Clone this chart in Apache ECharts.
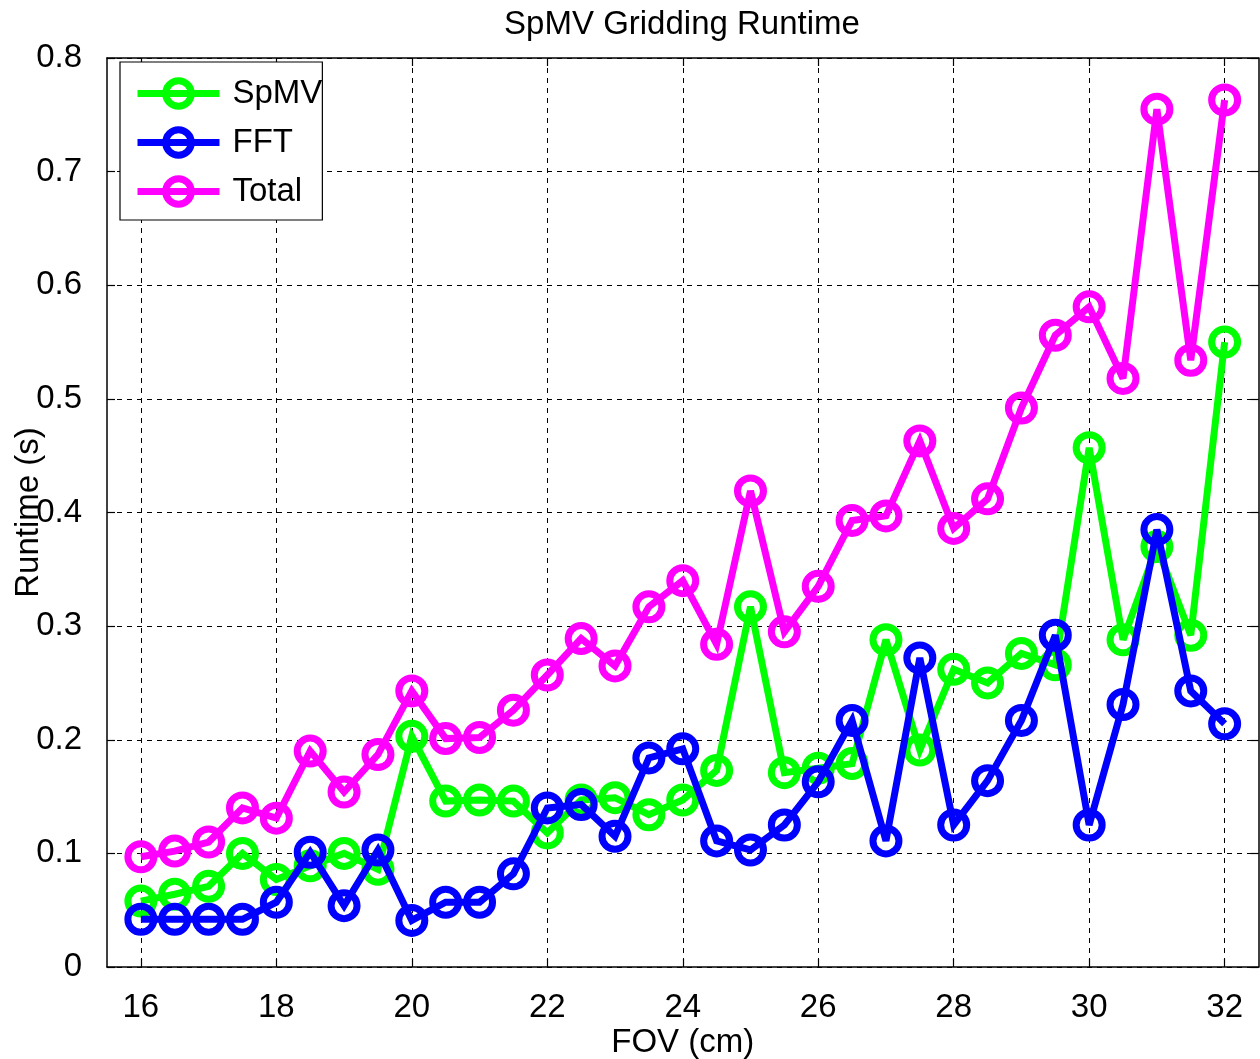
<!DOCTYPE html>
<html>
<head>
<meta charset="utf-8">
<title>SpMV Gridding Runtime</title>
<script src="https://cdn.jsdelivr.net/npm/echarts@6/dist/echarts.min.js"></script>
<style>
  html, body { margin: 0; padding: 0; background: #fff; }
  #chart { width: 1260px; height: 1059px; }
</style>
</head>
<body>
<div id="chart"></div>
<script>
// Field of view (cm) for each measurement
const fov = [16, 16.5, 17, 17.5, 18, 18.5, 19, 19.5, 20, 20.5, 21, 21.5, 22, 22.5, 23, 23.5,
             24, 24.5, 25, 25.5, 26, 26.5, 27, 27.5, 28, 28.5, 29, 29.5, 30, 30.5, 31, 31.5, 32];

// Runtime in seconds
const spmv = [0.058, 0.064, 0.071, 0.100, 0.077, 0.089, 0.100, 0.086, 0.203, 0.146, 0.147, 0.146,
              0.118, 0.147, 0.149, 0.134, 0.147, 0.173, 0.317, 0.171, 0.175, 0.179, 0.288, 0.191,
              0.262, 0.250, 0.276, 0.266, 0.457, 0.288, 0.370, 0.292, 0.550];
const fft = [0.042, 0.042, 0.042, 0.042, 0.057, 0.101, 0.054, 0.103, 0.041, 0.057, 0.057, 0.082,
             0.140, 0.143, 0.115, 0.184, 0.192, 0.111, 0.103, 0.125, 0.163, 0.217, 0.111, 0.272,
             0.125, 0.164, 0.217, 0.292, 0.125, 0.231, 0.385, 0.243, 0.214];
const total = [0.097, 0.102, 0.110, 0.140, 0.131, 0.190, 0.154, 0.187, 0.243, 0.201, 0.202, 0.226,
               0.257, 0.289, 0.265, 0.317, 0.340, 0.284, 0.419, 0.295, 0.335, 0.393, 0.397, 0.463,
               0.386, 0.412, 0.492, 0.556, 0.581, 0.518, 0.755, 0.534, 0.763];

// Axis ticks
const xTicks = [16, 18, 20, 22, 24, 26, 28, 30, 32];

const FONT = "'Liberation Sans', Arial, Helvetica, sans-serif";
const FS = 33;

function pairs(ys) {
  return fov.map((x, i) => [x, ys[i]]);
}

function lineSeries(name, color, ys, z) {
  return {
    name: name,
    type: 'line',
    z: z,
    data: pairs(ys),
    symbol: 'circle',
    symbolSize: 26,
    showAllSymbol: true,
    itemStyle: { color: 'rgba(0,0,0,0)', borderColor: color, borderWidth: 7 },
    lineStyle: { color: color, width: 7, join: 'miter', miterLimit: 3, cap: 'butt' },
    emphasis: { disabled: true }
  };
}

const dashed = { color: '#000', width: 1, type: [5, 5] };
const axisLine = { show: true, onZero: false, lineStyle: { color: '#000', width: 1.5 } };
const tickStyle = { color: '#000', width: 1.2 };

const option = {
  animation: false,
  backgroundColor: '#fff',
  title: {
    text: 'SpMV Gridding Runtime',
    left: 682,
    top: 8,
    textAlign: 'center',
    padding: 0,
    textStyle: { fontFamily: FONT, fontSize: FS, fontWeight: 'normal', color: '#000' }
  },
  legend: {
    orient: 'vertical',
    left: 120,
    top: 62,
    z: 10,
    padding: [15, 0, 12, 14],
    itemGap: 16,
    itemWidth: 82,
    itemHeight: 32,
    backgroundColor: '#fff',
    borderColor: '#000',
    borderWidth: 1.2,
    borderRadius: 0,
    selectedMode: false,
    lineStyle: { width: 7 },
    itemStyle: { borderWidth: 7 },
    textStyle: { fontFamily: FONT, fontSize: FS, color: '#000', lineHeight: 32, padding: [0, 0, 0, 8] },
    data: ['SpMV', 'FFT', 'Total']
  },
  grid: { left: 107, right: 1.5, top: 58, bottom: 92, containLabel: false, outerBoundsMode: 'none' },
  xAxis: [
    {
      type: 'value',
      position: 'bottom',
      min: 15.5,
      max: 32.5,
      name: 'FOV (cm)',
      nameLocation: 'middle',
      nameGap: 59,
      nameMoveOverlap: false,
      nameTextStyle: { fontFamily: FONT, fontSize: FS, color: '#000' },
      axisLine: axisLine,
      axisTick: { show: true, inside: true, length: 8, customValues: xTicks, lineStyle: tickStyle },
      axisLabel: { customValues: xTicks, margin: 24, fontFamily: FONT, fontSize: FS, color: '#000' },
      splitLine: { show: true, lineStyle: dashed }
    },
    {
      type: 'value',
      position: 'top',
      min: 15.5,
      max: 32.5,
      axisLine: axisLine,
      axisTick: { show: true, inside: true, length: 8, customValues: xTicks, lineStyle: tickStyle },
      axisLabel: { show: false },
      splitLine: { show: false }
    }
  ],
  yAxis: [
    {
      type: 'value',
      position: 'left',
      min: 0,
      max: 0.8,
      interval: 0.1,
      name: 'Runtime (s)',
      nameLocation: 'middle',
      nameGap: 62,
      nameRotate: 90,
      nameMoveOverlap: false,
      nameTextStyle: { fontFamily: FONT, fontSize: FS, color: '#000' },
      axisLine: axisLine,
      axisTick: { show: true, inside: true, length: 8, lineStyle: tickStyle },
      axisLabel: { margin: 25, padding: [5, 0, 0, 0], fontFamily: FONT, fontSize: FS, color: '#000' },
      splitLine: { show: true, lineStyle: dashed }
    },
    {
      type: 'value',
      position: 'right',
      min: 0,
      max: 0.8,
      interval: 0.1,
      axisLine: axisLine,
      axisTick: { show: true, inside: true, length: 8, lineStyle: tickStyle },
      axisLabel: { show: false },
      splitLine: { show: false }
    }
  ],
  series: [
    lineSeries('SpMV', '#00ff00', spmv, 2),
    lineSeries('FFT', '#0000ff', fft, 3),
    lineSeries('Total', '#ff00ff', total, 4)
  ]
};

const chart = echarts.init(document.getElementById('chart'), null, { renderer: 'canvas' });
chart.setOption(option);
</script>
</body>
</html>
